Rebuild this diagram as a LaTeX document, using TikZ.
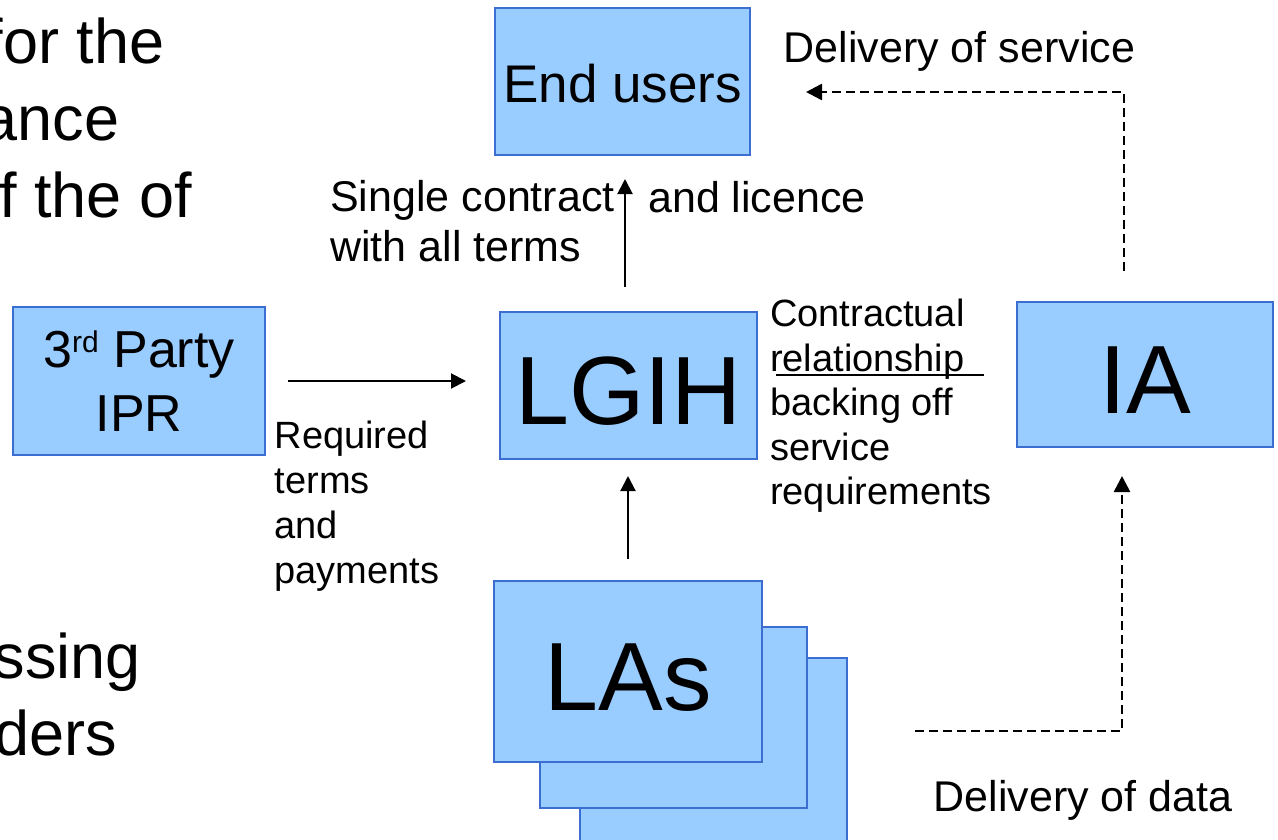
\documentclass[tikz,border=0pt]{standalone}
\usepackage{fontspec}
\setmainfont{Liberation Sans}
\usetikzlibrary{arrows.meta,calc}
\definecolor{boxfill}{HTML}{99CCFF}
\definecolor{boxline}{HTML}{3C6ED2}
\begin{document}
\begin{tikzpicture}[x=1pt,y=-1pt,
  box/.style={draw=boxline, fill=boxfill, line width=2pt, inner sep=0pt},
  bigtxt/.style={font=\fontsize{97}{110}\selectfont, text height=78pt, text depth=0pt},
  lbl/.style={inner sep=0pt, text=black},
  arr/.style={line width=2pt, -{Triangle[width=15pt,length=15pt]}},
  darr/.style={line width=2.6pt, dash pattern=on 9pt off 5pt, -{Triangle[width=16pt,length=16pt]}}]
\useasboundingbox (0,0) rectangle (1278,839);
\clip (0,0) rectangle (1278,839);
% cut-off text on the left
\node[lbl, anchor=base east, font=\fontsize{63}{76}\selectfont] (t1) at (164.5,63) {for the};
\node[lbl, anchor=base east, font=\fontsize{63}{76}\selectfont] (t2) at (119.5,140) {ance};
\node[lbl, anchor=base east, font=\fontsize{63}{76}\selectfont] (t3) at (192,217) {f the of};
\node[lbl, anchor=base east, font=\fontsize{63}{76}\selectfont] (t4) at (141,678) {ssing};
\node[lbl, anchor=base east, font=\fontsize{63}{76}\selectfont] (t5) at (117,755) {ders};
% boxes
\node[box, minimum width=255pt, minimum height=147pt, font=\fontsize{53}{64}\selectfont, text height=41pt, text depth=0pt] (eu) at (622.5,81.5) {End users};
\node[box, minimum width=252pt, minimum height=148pt, align=center, font=\fontsize{52}{64}\selectfont] (ipr) at (139,381) {3\raisebox{15pt}{\fontsize{30}{30}\selectfont rd} Party\\IPR};
\node[box, minimum width=257pt, minimum height=147pt, bigtxt] (lgih) at (628.5,385.5) {LGIH};
\node[box, minimum width=256pt, minimum height=145pt, bigtxt] (ia) at (1145,374.5) {IA};
\node[box, minimum width=267pt, minimum height=192pt] (las3) at (713.5,754) {};
\node[box, minimum width=267pt, minimum height=181pt] (las2) at (673.5,717.5) {};
\node[box, minimum width=268pt, minimum height=181pt, bigtxt] (las) at (628,671.5) {LAs};
% labels
\node[lbl, anchor=base west, font=\fontsize{43}{50}\selectfont] (dserv) at (783.6,62) {Delivery of service};
\node[lbl, anchor=base west, font=\fontsize{43}{50}\selectfont] (ddata) at (933.5,811) {Delivery of data};
\node[lbl, anchor=north west, align=left, font=\fontsize{43}{50}\selectfont] (sc) at (330,180.2) {Single contract\\with all terms};
\node[lbl, anchor=base west, font=\fontsize{43}{50}\selectfont] (lic) at (648,212) {and licence};
\node[lbl, anchor=north west, align=left, font=\fontsize{38}{45}\selectfont] (req) at (274.5,420.8) {Required\\terms\\and\\payments};
\node[lbl, anchor=north west, align=left, font=\fontsize{38}{44.5}\selectfont] (ctr) at (770,299) {Contractual\\\rlap{\hspace{6pt}\rule[-5pt]{208pt}{2pt}}relationship\\backing off\\service\\requirements};
% connectors
\draw[arr, shorten <=22pt, shorten >=33pt] (ipr.east) -- (ipr.east -| lgih.west);
\draw[arr, shorten <=24pt, shorten >=23pt] ([xshift=-3.5pt]lgih.north) -- ([xshift=-3.5pt]lgih.north |- eu.south);
\draw[arr, shorten <=21pt, shorten >=16pt] (las.north) -- (las.north |- lgih.south);
\draw[darr] ([xshift=-21pt,yshift=30pt]ia.north) |- ([xshift=55pt,yshift=-10.5pt]eu.east);
\draw[darr] ([xshift=67pt,yshift=23pt]las3.east) -| ([xshift=-23pt,yshift=-28pt]ia.south);
\end{tikzpicture}
\end{document}
